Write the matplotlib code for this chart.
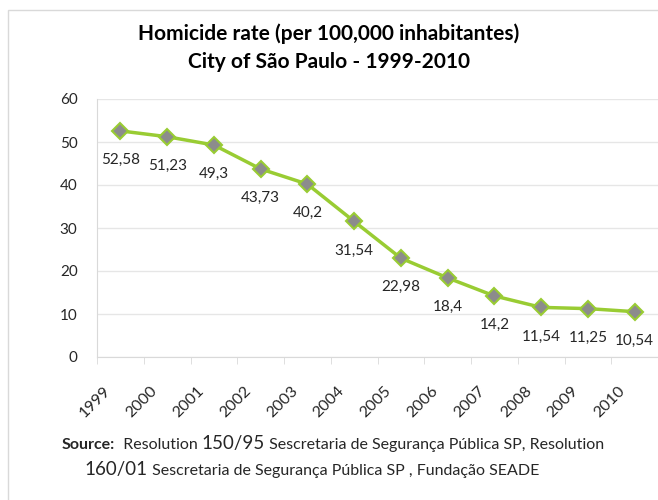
import matplotlib.pyplot as plt
from matplotlib.patches import Rectangle
from matplotlib.transforms import ScaledTranslation

years = ['1999', '2000', '2001', '2002', '2003', '2004',
         '2005', '2006', '2007', '2008', '2009', '2010']
rates = [52.58, 51.23, 49.3, 43.73, 40.2, 31.54,
         22.98, 18.4, 14.2, 11.54, 11.25, 10.54]
rate_labels = ['52,58', '51,23', '49,3', '43,73', '40,2', '31,54',
               '22,98', '18,4', '14,2', '11,54', '11,25', '10,54']

FONT = 'Lato'
TXT = '#262626'

fig = plt.figure(figsize=(6.58, 5.0), dpi=100)
fig.patches.append(Rectangle((8/658, -0.1), 1.0, 1.1 - 10/500, transform=fig.transFigure,
                             fill=False, edgecolor='#d9d9d9', lw=1))

ax = fig.add_axes([97/658, 1 - 357/500, (658 - 97)/658, (357 - 99)/500])
x = list(range(len(years)))
ax.plot(x, rates, color='#99cc33', lw=2.5, marker='D', markersize=8,
        markerfacecolor='#8c8c8c', markeredgecolor='#99cc33', markeredgewidth=1.5,
        zorder=3)
for xi, v, lab in zip(x, rates, rate_labels):
    ax.annotate(lab, (xi, v), xytext=(0, -21), textcoords='offset points',
                ha='center', va='center', fontsize=11, family=FONT, color=TXT)

ax.set_ylim(0, 60)
ax.set_yticks(range(0, 61, 10))
ax.set_xlim(-0.5, 11.45)

# category labels: rotated, sitting left of and below each category centre
ax.set_xticks([])
label_off = ax.get_xaxis_transform() + ScaledTranslation(-25/100, -45/100, fig.dpi_scale_trans)
for xi, yr in zip(x, years):
    ax.text(xi, 0, yr, transform=label_off, rotation=45, rotation_mode='anchor',
            ha='center', va='center', fontsize=11.5, family=FONT, color=TXT)
ax.set_xticks([i - 0.5 for i in range(13)], minor=True)
ax.tick_params(axis='x', which='minor', length=5, color='#d9d9d9')
ax.tick_params(axis='y', length=0, pad=14, labelsize=11, labelcolor=TXT)
for t in ax.get_yticklabels():
    t.set_family(FONT)
ax.grid(axis='y', color='#e6e6e6', lw=1)
ax.set_axisbelow(True)
for s in ['top', 'right']:
    ax.spines[s].set_visible(False)
ax.spines['left'].set_color('#d9d9d9')
ax.spines['bottom'].set_color('#d9d9d9')

fig.text(0.5, 1 - 34/500, 'Homicide rate (per 100,000 inhabitantes)', ha='center', va='center',
         fontsize=15, fontweight='bold', family=FONT, color='black')
fig.text(0.5, 1 - 62/500, 'City of São Paulo - 1999-2010', ha='center', va='center',
         fontsize=15, fontweight='bold', family=FONT, color='black')

# source note, built from pieces of different size and weight
renderer = fig.canvas.get_renderer()


def centered_line(pieces, y, cx):
    objs = []
    for txt, size, weight in pieces:
        objs.append(fig.text(0, y, txt, fontsize=size, fontweight=weight, family=FONT,
                             color=TXT, va='baseline', ha='left'))
    widths = [o.get_window_extent(renderer).width / fig.bbox.width for o in objs]
    pos = cx - sum(widths) / 2
    for o, w in zip(objs, widths):
        o.set_x(pos)
        pos += w


centered_line([('Source:', 11.5, 'bold'), ('  Resolution ', 11.5, 'normal'),
               ('150/95', 13.5, 'normal'),
               (' Sescretaria de Segurança Pública SP, Resolution', 11.5, 'normal')],
              1 - 449/500, 333/658)
centered_line([('160/01', 13.5, 'normal'),
               (' Sescretaria de Segurança Pública SP , Fundação SEADE', 11.5, 'normal')],
              1 - 475/500, 312/658)

fig.savefig('out.png', dpi=100)
